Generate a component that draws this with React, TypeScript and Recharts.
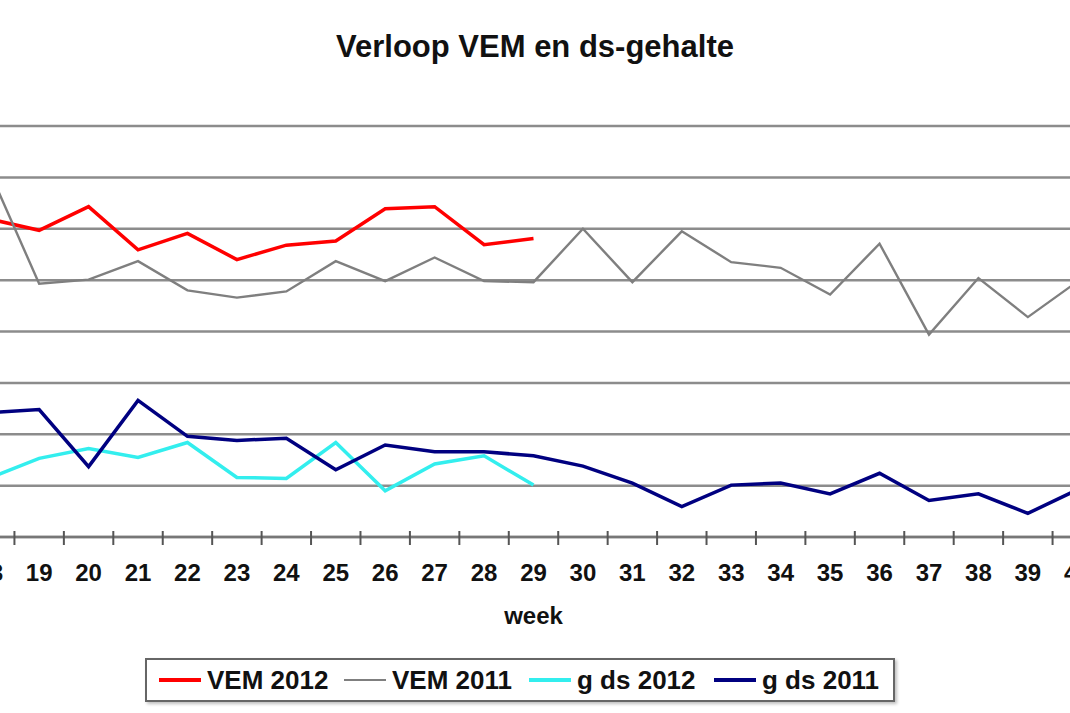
import React from 'react';
import { ComposedChart, Line, XAxis, YAxis, CartesianGrid, Legend } from 'recharts';

const weeks = [18, 19, 20, 21, 22, 23, 24, 25, 26, 27, 28, 29, 30, 31, 32, 33, 34, 35, 36, 37, 38, 39, 40];
const vem2012 = [919, 897, 943, 859, 891, 840, 868, 876, 939, 943, 869, 881];
const vem2011 = [1011, 793, 801, 837, 780, 766, 778, 837, 798, 844, 798, 796, 900, 796, 895, 835, 824, 772, 871, 694, 804, 728, 797];
const gds2012 = [415, 453, 472, 455, 484, 416, 414, 484, 390, 442, 458, 401];
const gds2011 = [542, 548, 437, 566, 496, 488, 492, 431, 479, 466, 466, 458, 438, 405, 359, 401, 405, 384, 424, 371, 384, 346, 392];
const yTicks = [300, 400, 500, 600, 700, 800, 900, 1000, 1100];
const seriesNames = ['VEM 2012', 'VEM 2011', 'g ds 2012', 'g ds 2011'];

const data = weeks.map((w, i) => ({
  week: w,
  vem2012: i < vem2012.length ? vem2012[i] : null,
  vem2011: vem2011[i],
  gds2012: i < gds2012.length ? gds2012[i] : null,
  gds2011: gds2011[i],
}));

const FONT = '"Liberation Sans", Arial, Helvetica, sans-serif';

function WeekTick(props: any) {
  const { x, y, payload } = props;
  const half = payload && typeof payload.offset === 'number' ? payload.offset : 0;
  return (
    <g>
      <line x1={x - half} x2={x - half} y1={y - 6} y2={y + 8} stroke="#555" strokeWidth={2} />
      <text x={x} y={y + 44} textAnchor="middle" fontFamily={FONT} fontWeight="bold" fontSize={24} fill="#111">
        {payload.value}
      </text>
    </g>
  );
}

function LegendBox(props: any) {
  const items = [...(props.payload || [])].sort(
    (a: any, b: any) => seriesNames.indexOf(a.value) - seriesNames.indexOf(b.value)
  );
  return (
    <div
      style={{
        boxSizing: 'border-box',
        width: '100%',
        height: '100%',
        border: '2px solid #666',
        boxShadow: '2px 2px 3px rgba(0,0,0,0.25)',
        background: '#fff',
        display: 'flex',
        alignItems: 'center',
        paddingLeft: 12,
        fontFamily: FONT,
        fontWeight: 'bold',
        fontSize: 26,
        color: '#111',
      }}
    >
      {items.map((it: any) => (
        <div key={it.value} style={{ display: 'flex', alignItems: 'center', width: 185, flex: 'none' }}>
          <span
            style={{
              display: 'inline-block',
              width: 42,
              height: (it.payload && it.payload.strokeWidth) || 3,
              background: it.color,
              marginRight: 6,
            }}
          />
          <span>{it.value}</span>
        </div>
      ))}
    </div>
  );
}

export default function App() {
  return (
    <div style={{ position: 'absolute', left: 0, top: 0, width: 1070, height: 713, overflow: 'hidden', background: '#fff' }}>
      <div
        style={{
          position: 'absolute',
          left: 0,
          top: 32,
          width: 1070,
          textAlign: 'center',
          fontFamily: FONT,
          fontWeight: 'bold',
          fontSize: 31,
          lineHeight: '30px',
          color: '#111',
        }}
      >
        Verloop VEM en ds-gehalte
      </div>
      <div style={{ position: 'absolute', left: -60, top: 0 }}>
        <ComposedChart width={1240} height={713} data={data} margin={{ top: 126, right: 78, bottom: 76, left: 25 }}>
          <CartesianGrid vertical={false} stroke="#8c8c8c" strokeWidth={2.5} />
          <XAxis
            dataKey="week"
            type="category"
            scale="band"
            interval={0}
            height={100}
            tickSize={0}
            tickMargin={0}
            tickLine={false}
            tick={<WeekTick />}
            axisLine={{ stroke: '#777', strokeWidth: 2.5 }}
            label={{
              value: 'week',
              position: 'insideBottom',
              offset: 13,
              fontFamily: FONT,
              fontWeight: 'bold',
              fontSize: 24,
              fill: '#111',
            }}
          />
          <YAxis hide type="number" domain={[300, 1100]} ticks={yTicks} />
          <Legend
            layout="horizontal"
            verticalAlign="middle"
            align="center"
            content={<LegendBox />}
            wrapperStyle={{ left: 205, top: 658, width: 750, height: 44 }}
          />
          <Line name="VEM 2012" dataKey="vem2012" type="linear" stroke="#ff0000" strokeWidth={3.5} dot={false} isAnimationActive={false} />
          <Line name="VEM 2011" dataKey="vem2011" type="linear" stroke="#7f7f7f" strokeWidth={2.4} dot={false} isAnimationActive={false} />
          <Line name="g ds 2012" dataKey="gds2012" type="linear" stroke="#33eeee" strokeWidth={3.5} dot={false} isAnimationActive={false} />
          <Line name="g ds 2011" dataKey="gds2011" type="linear" stroke="#000080" strokeWidth={3.5} dot={false} isAnimationActive={false} />
        </ComposedChart>
      </div>
    </div>
  );
}
